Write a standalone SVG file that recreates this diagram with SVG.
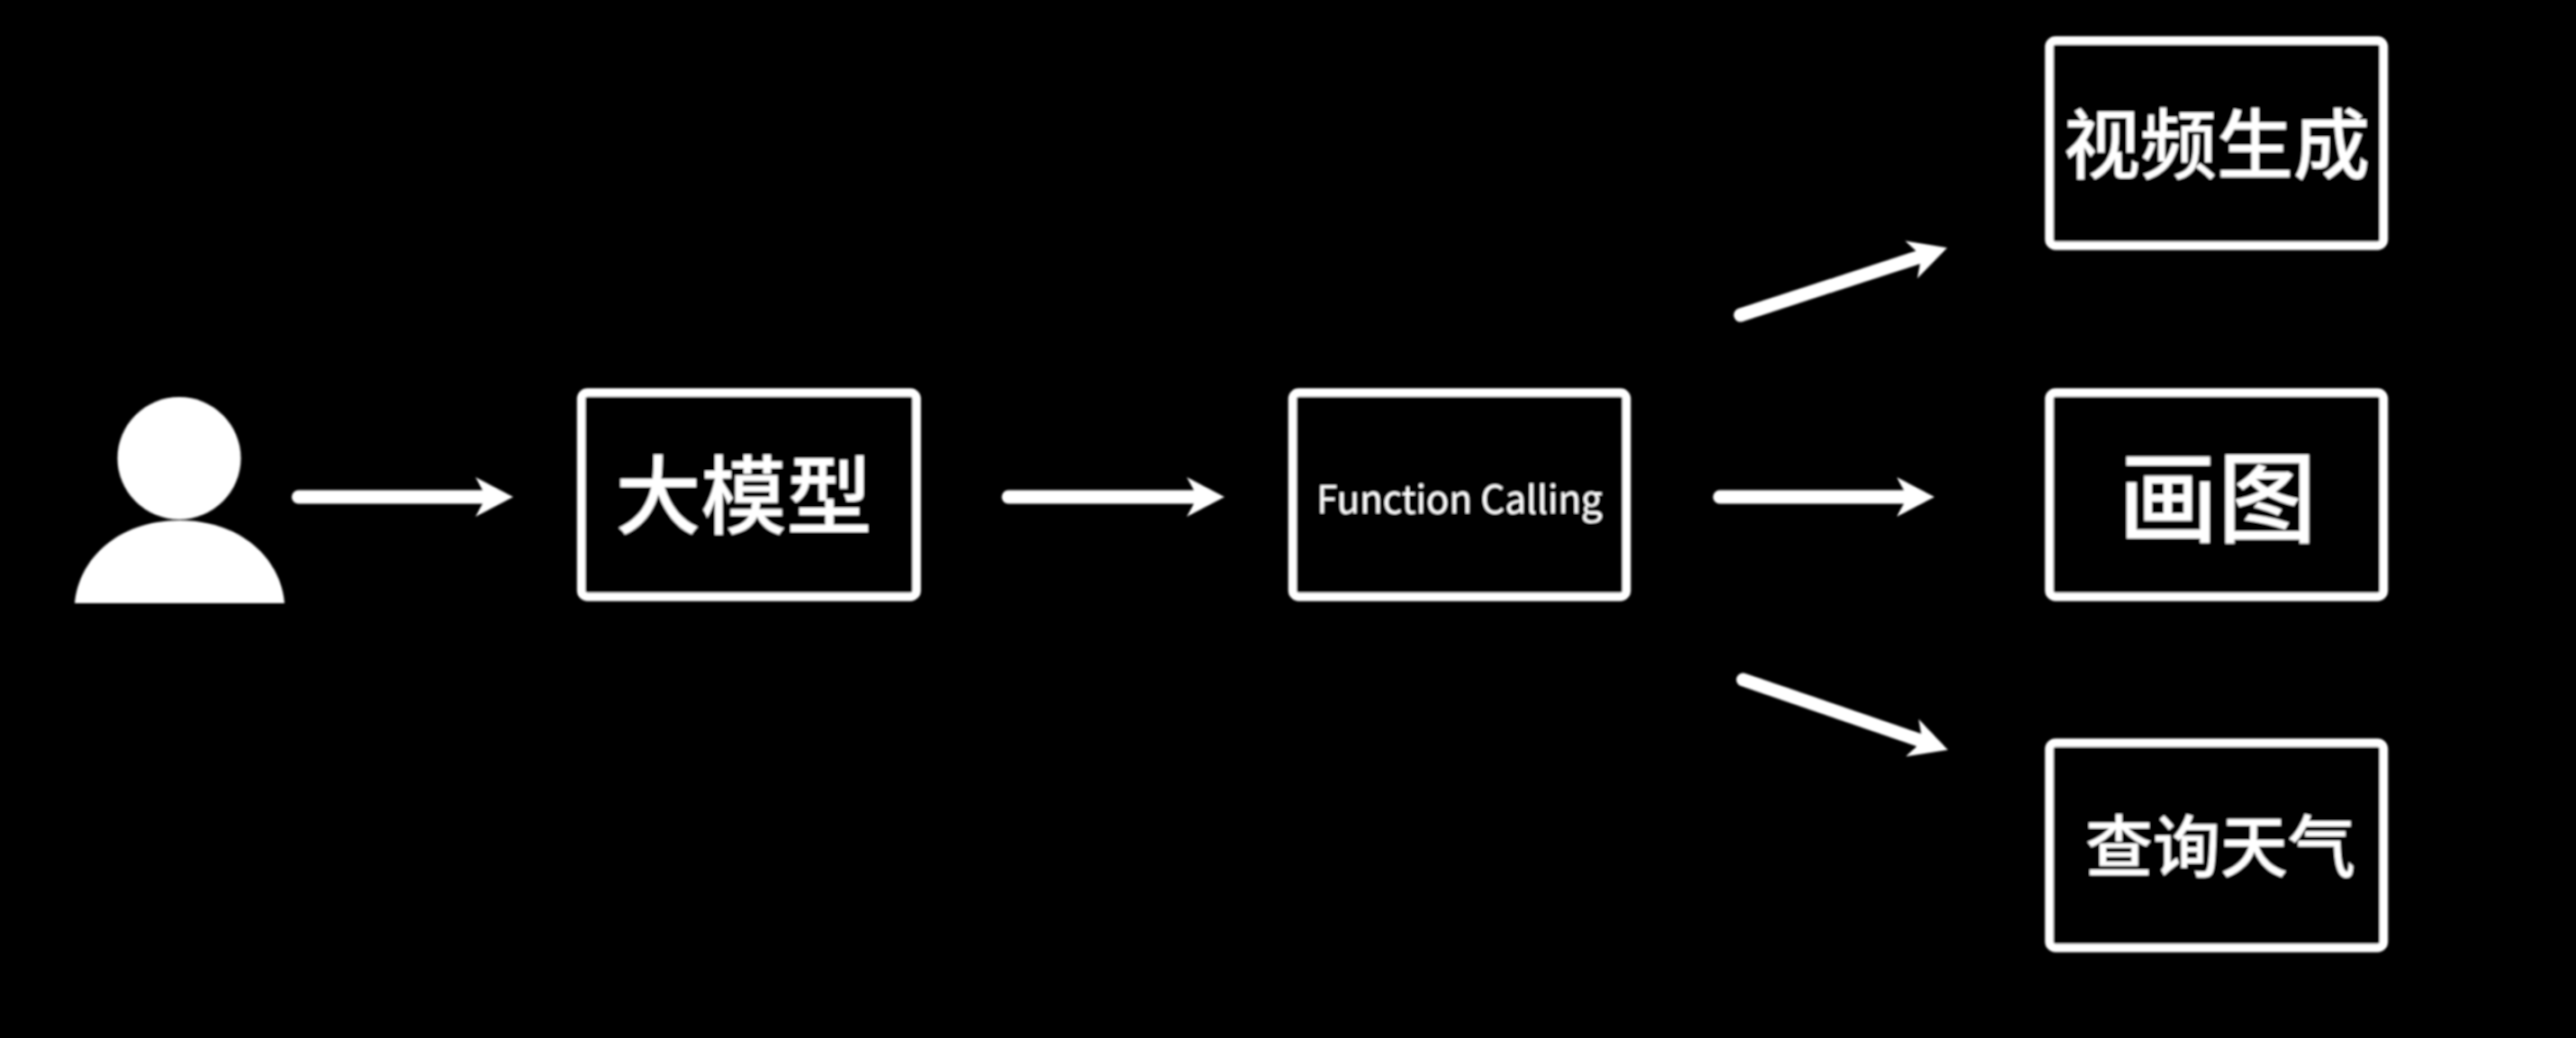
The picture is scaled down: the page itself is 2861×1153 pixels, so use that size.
<svg xmlns="http://www.w3.org/2000/svg" width="2861" height="1153" viewBox="0 0 2861 1153">
<style>
.box{fill:#000;stroke:#fff;stroke-width:9.5}
.lbl{fill:#fff;font-family:"Noto Sans CJK SC","Noto Sans",sans-serif;font-weight:500;text-anchor:middle}
.thin{font-weight:400}
.arr{stroke:#fff;stroke-width:15;stroke-linecap:round;fill:none;marker-end:url(#head)}
</style>
<defs>
<marker id="head" markerUnits="userSpaceOnUse" markerWidth="44" markerHeight="48" viewBox="0 -24 44 48" refX="14" refY="0" orient="auto">
<path d="M0,-22L42,0L0,22L12,0Z" fill="#fff"/>
</marker>
<filter id="soft" x="-5%" y="-5%" width="110%" height="110%"><feGaussianBlur stdDeviation="1"/></filter>
</defs>
<rect id="background" width="2861" height="1153" fill="#000"/>
<g filter="url(#soft)">
<g id="user">
<ellipse cx="199" cy="509" rx="68.5" ry="68" fill="#fff"/>
<path d="M83,670C87,622 130,578 199.500,578C269,578 312,622 316,670Z" fill="#fff"/>
</g>
<g id="connectors">
<path class="arr" d="M331.500,552H542"/>
<path class="arr" d="M1120,552H1332"/>
<path class="arr" d="M1910,552H2120.500"/>
<path class="arr" d="M1933,350L2136,284"/>
<path class="arr" d="M1936,755L2137,824"/>
</g>
<g id="node-model">
<rect class="box" x="645.500" y="436" width="372.500" height="227" rx="7"/>
<text class="lbl" x="826" y="586" font-size="95">大模型</text>
</g>
<g id="node-function-calling">
<rect class="box" x="1435.500" y="436" width="371" height="227" rx="7"/>
<text class="lbl thin" x="1621" y="570" font-size="42">Function Calling</text>
</g>
<g id="node-video">
<rect class="box" x="2276" y="45" width="371.500" height="228" rx="7"/>
<text class="lbl" x="2462" y="192" font-size="85">视频生成</text>
</g>
<g id="node-draw">
<rect class="box" x="2276" y="436" width="371.500" height="227" rx="7"/>
<text class="lbl" x="2463" y="594" font-size="110">画图</text>
</g>
<g id="node-weather">
<rect class="box" x="2276" y="825" width="371.500" height="228" rx="7"/>
<text class="lbl" x="2466" y="968" font-size="75">查询天气</text>
</g>
</g>
</svg>
